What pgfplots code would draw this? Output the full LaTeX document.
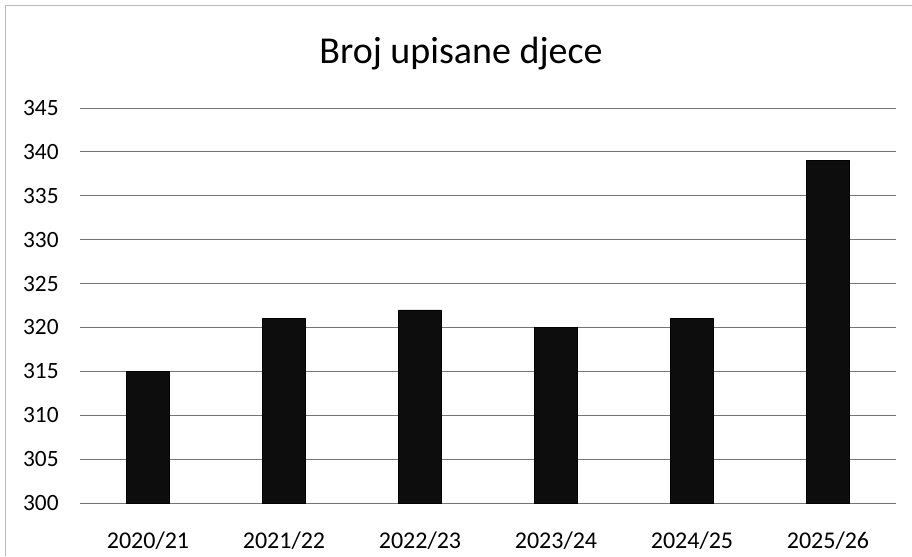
\documentclass[border=0pt]{standalone}
\usepackage{fontspec}
\setmainfont{Carlito}
\usepackage{pgfplots}
\pgfplotsset{compat=1.18}
\begin{document}
\begin{tikzpicture}[x=1pt,y=1pt]
\path[use as bounding box] (0,0) rectangle (684,417);
% chart frame (left and top edges visible in the scan)
\draw[gray!55, line width=0.6pt] (4,0) -- (4,413) -- (684,413);
\node[anchor=base, font=\fontsize{28.5}{30}\selectfont] at (345.75,369) {Broj upisane djece};
\begin{axis}[
  at={(60pt,39.75pt)}, anchor=south west,
  scale only axis, width=612pt, height=296.25pt,
  xmin=-0.5, xmax=5.5, ymin=300, ymax=345,
  ytick={300,305,...,345},
  xtick={0,1,2,3,4,5},
  xticklabels={2020/21,2021/22,2022/23,2023/24,2024/25,2025/26},
  ymajorgrids, grid style={black!55, line width=0.7pt},
  axis line style={draw=none}, major tick length=0pt,
  yticklabel style={font=\fontsize{17.5}{19}\selectfont, xshift=-12.5pt},
  xticklabel style={font=\fontsize{18}{20}\selectfont, yshift=-18pt},
  /pgf/number format/assume math mode=true,
  /pgf/number format/1000 sep={},
]
\addplot[ybar, bar width=32pt, fill=black!95, draw=black] coordinates {
  (0,315) (1,321) (2,322) (3,320) (4,321) (5,339)
};
\end{axis}
\end{tikzpicture}
\end{document}
